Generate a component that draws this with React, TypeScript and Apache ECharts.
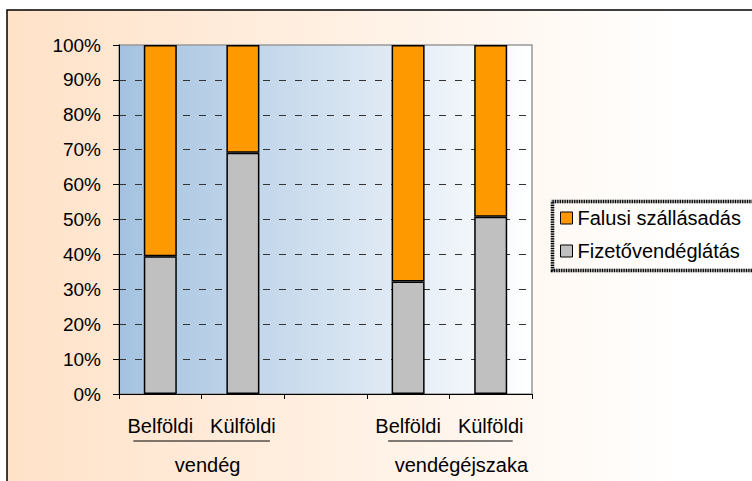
import React, { useEffect, useRef } from "react";
import * as echarts from "echarts";

const categories = ["Belföldi", "Külföldi", "", "Belföldi", "Külföldi"];
const groupLabels = ["vendég", "vendégéjszaka"];
const fizetoValues = [39.5, 69.1, null, 32.2, 50.8];
const falusiValues = [60.5, 30.9, null, 67.8, 49.2];
const seriesNames = ["Falusi szállásadás", "Fizetővendéglátás"];

const GRID_LEFT = 119;
const GRID_TOP = 45;
const GRID_RIGHT = 220;
const GRID_BOTTOM = 87;
const W = 752;
const H = 481;

export default function App() {
  const ref = useRef<HTMLDivElement>(null);
  useEffect(() => {
    document.body.style.margin = "0";
    if (!ref.current) return;
    const chart = echarts.init(ref.current, undefined, { renderer: "svg" });
    const font = "'Liberation Sans', Arial, sans-serif";
    const plotW = W - GRID_LEFT - GRID_RIGHT;
    const catW = plotW / categories.length;
    const catCenter = (i: number) => GRID_LEFT + catW * (i + 0.5);
    const lineY = 441;
    const textY = 465;
    chart.setOption({
      animation: false,
      textStyle: { fontFamily: font },
      graphic: [
        {
          type: "rect",
          z: -10,
          silent: true,
          shape: { x: 7, y: 10, width: 800, height: 520 },
          style: {
            fill: new echarts.graphic.LinearGradient(0, 0, 1, 0, [
              { offset: 0, color: "#FFE2C8" },
              { offset: 0.85, color: "#FFFFFF" },
              { offset: 1, color: "#FFFFFF" },
            ]),
            stroke: "#000",
            lineWidth: 1.5,
          },
        },
        {
          type: "line",
          silent: true,
          shape: { x1: catCenter(0) - 27, y1: lineY, x2: catCenter(1) + 27, y2: lineY },
          style: { stroke: "#000", lineWidth: 1 },
        },
        {
          type: "line",
          silent: true,
          shape: { x1: catCenter(3) - 20, y1: lineY, x2: catCenter(4) + 22, y2: lineY },
          style: { stroke: "#000", lineWidth: 1 },
        },
        {
          type: "text",
          silent: true,
          x: (catCenter(0) + catCenter(1)) / 2 + 6,
          y: textY,
          style: { text: groupLabels[0], font: `20px ${font}`, fill: "#000", align: "center", verticalAlign: "middle" },
        },
        {
          type: "text",
          silent: true,
          x: (catCenter(3) + catCenter(4)) / 2 + 12,
          y: textY,
          style: { text: groupLabels[1], font: `20px ${font}`, fill: "#000", align: "center", verticalAlign: "middle" },
        },
        {
          type: "rect",
          silent: true,
          z: 5,
          shape: { x: 552.5, y: 201.5, width: 220, height: 69 },
          style: { fill: "none", stroke: "#bbb", lineWidth: 3.5 },
        },
        {
          type: "rect",
          silent: true,
          z: 6,
          shape: { x: 552.5, y: 201.5, width: 220, height: 69 },
          style: { fill: "none", stroke: "#000", lineWidth: 3.5, lineDash: [1.2, 1.2] },
        },
      ],
      grid: {
        left: GRID_LEFT,
        top: GRID_TOP,
        right: GRID_RIGHT,
        bottom: GRID_BOTTOM,
        show: true,
        borderColor: "#999",
        borderWidth: 1.5,
        backgroundColor: new echarts.graphic.LinearGradient(0, 0, 1, 0, [
          { offset: 0, color: "#A4C2E0" },
          { offset: 1, color: "#FFFFFF" },
        ]),
      },
      legend: {
        orient: "vertical",
        left: 560,
        top: 207,
        padding: 0,
        itemGap: 11,
        itemWidth: 12,
        itemHeight: 12,
        icon: "rect",
        data: seriesNames,
        textStyle: { fontSize: 20, color: "#000", fontFamily: font, lineHeight: 22, padding: [0, 0, 0, 0] },
        itemStyle: { borderColor: "#000", borderWidth: 1 },
      },
      xAxis: {
        type: "category",
        data: categories,
        axisLine: { lineStyle: { color: "#000", width: 1 } },
        axisTick: { show: true, length: 5, interval: 0, lineStyle: { color: "#000" } },
        axisLabel: { interval: 0, fontSize: 20, color: "#000", margin: 22, fontFamily: font },
        splitLine: { show: false },
      },
      yAxis: {
        type: "value",
        min: 0,
        max: 100,
        interval: 10,
        axisLine: { show: true, lineStyle: { color: "#000", width: 1 } },
        axisTick: { show: true, length: 6, lineStyle: { color: "#000" } },
        axisLabel: { formatter: "{value}%", fontSize: 19, color: "#000", margin: 18, fontFamily: font },
        splitLine: {
          show: true,
          showMinLine: false,
          showMaxLine: false,
          lineStyle: { color: "#333", type: [7, 9], width: 1 },
        },
      },
      series: [
        {
          name: seriesNames[1],
          type: "bar",
          stack: "total",
          barWidth: 33,
          data: fizetoValues,
          itemStyle: { color: "#C0C0C0", borderColor: "#000", borderWidth: 1.5 },
        },
        {
          name: seriesNames[0],
          type: "bar",
          stack: "total",
          barWidth: 33,
          data: falusiValues,
          itemStyle: { color: "#FF9900", borderColor: "#000", borderWidth: 1.5 },
        },
      ],
    });
    return () => chart.dispose();
  }, []);
  return <div ref={ref} style={{ width: W, height: H }} />;
}
